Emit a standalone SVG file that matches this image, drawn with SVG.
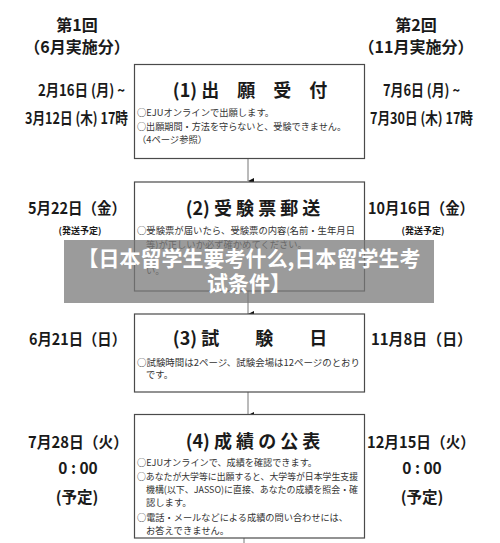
<svg xmlns="http://www.w3.org/2000/svg" width="500" height="543" viewBox="0 0 500 543">
<style>
.side{font-family:"Noto Sans CJK JP","Noto Sans",sans-serif;font-weight:bold;fill:#1a1a1a;text-anchor:middle}
.date{font-family:"Noto Sans CJK JP","Noto Sans",sans-serif;font-weight:bold;fill:#1a1a1a;font-size:15.5px}
.big{font-size:15.5px}
.small{font-size:9px}
.title{font-family:"Noto Sans CJK JP","Noto Sans",sans-serif;font-weight:bold;font-size:18px;fill:#1a1a1a;text-anchor:middle}
.body{font-family:"Noto Sans CJK JP","Noto Sans",sans-serif;font-size:9.3px;fill:#333}
.box{fill:#fff;stroke:#4a4a4a;stroke-width:1.2}
.conn{stroke:#777;stroke-width:1;fill:none}
.banner{font-family:"Noto Sans CJK SC","Noto Sans",sans-serif;font-weight:bold;font-size:21px;fill:#fff;text-anchor:middle}
</style>
<defs>
<marker id="arr" viewBox="0 0 6 6" refX="3" refY="6" markerWidth="6" markerHeight="6" markerUnits="userSpaceOnUse" orient="auto-start-reverse">
<path d="M0,0 L6,0 L3,6 Z" fill="#111"/>
</marker>
</defs>
<rect width="500" height="543" fill="#fff"/>
<g id="headers">
<text class="side" x="77" y="31" font-size="16">第1回</text>
<text class="side" x="77" y="53" font-size="16">（6月実施分）</text>
<text class="side" x="416" y="31" font-size="16">第2回</text>
<text class="side" x="416" y="53" font-size="16">（11月実施分）</text>
</g>
<g id="connectors">
<line class="conn" x1="248" y1="158" x2="248" y2="181" marker-end="url(#arr)"/>
<line class="conn" x1="248" y1="291" x2="248" y2="314" marker-end="url(#arr)"/>
<line class="conn" x1="248" y1="392" x2="248" y2="415" marker-end="url(#arr)"/>
<line class="conn" x1="244" y1="538" x2="244" y2="543"/>
</g>
<g id="step1">
<rect class="box" x="134.5" y="64.5" width="230" height="94"/>
<text class="title" x="250" y="97">(1) 出　願　受　付</text>
<text class="body" x="137" y="116">○EJUオンラインで出願します。</text>
<text class="body" x="137" y="129.5" textLength="209" lengthAdjust="spacingAndGlyphs">○出願期間・方法を守らないと、受験できません。</text>
<text class="body" x="137" y="143">（4ページ参照）</text>
<text class="date" x="38" y="96" textLength="87" lengthAdjust="spacingAndGlyphs">2月16日 (月) ~</text>
<text class="date" x="25" y="124" textLength="103" lengthAdjust="spacingAndGlyphs">3月12日 (木) 17時</text>
<text class="date" x="383" y="96" textLength="77" lengthAdjust="spacingAndGlyphs">7月6日 (月) ~</text>
<text class="date" x="370" y="124" textLength="103" lengthAdjust="spacingAndGlyphs">7月30日 (木) 17時</text>
</g>
<g id="step2">
<rect class="box" x="134.5" y="182" width="230" height="109"/>
<text class="title" x="253" y="215">(2) 受 験 票 郵 送</text>
<text class="body" x="137" y="234" textLength="218" lengthAdjust="spacingAndGlyphs">○受験票が届いたら、受験票の内容(名前・生年月日</text>
<text class="body" x="146" y="247.5">等)が正しいか必ず確かめてください。</text>
<text class="body" x="146" y="274">い。</text>
<text class="date" x="28" y="214" textLength="98" lengthAdjust="spacingAndGlyphs">5月22日（金）</text>
<text class="side small" x="80" y="234">(発送予定)</text>
<text class="date" x="368" y="214" textLength="106" lengthAdjust="spacingAndGlyphs">10月16日（金）</text>
<text class="side small" x="423" y="234">(発送予定)</text>
</g>
<g id="step3">
<rect class="box" x="134.5" y="314" width="230" height="78"/>
<text class="title" x="250" y="345">(3) 試　　験　　日</text>
<text class="body" x="137" y="366" textLength="223" lengthAdjust="spacingAndGlyphs">○試験時間は2ページ、試験会場は12ページのとおり</text>
<text class="body" x="146" y="378">です。</text>
<text class="date" x="29" y="345" textLength="97" lengthAdjust="spacingAndGlyphs">6月21日（日）</text>
<text class="date" x="371" y="345" textLength="101" lengthAdjust="spacingAndGlyphs">11月8日（日）</text>
</g>
<g id="step4">
<rect class="box" x="134.5" y="414.5" width="230" height="123.5"/>
<text class="title" x="253" y="448">(4) 成 績 の 公 表</text>
<text class="body" x="137" y="466" textLength="180" lengthAdjust="spacingAndGlyphs">○EJUオンラインで、成績を確認できます。</text>
<text class="body" x="137" y="480" textLength="221" lengthAdjust="spacingAndGlyphs">○あなたが大学等に出願すると、大学等が日本学生支援</text>
<text class="body" x="146" y="493" textLength="212" lengthAdjust="spacingAndGlyphs">機構(以下、JASSO)に直接、あなたの成績を照会・確</text>
<text class="body" x="146" y="506">認します。</text>
<text class="body" x="137" y="521" textLength="211" lengthAdjust="spacingAndGlyphs">○電話・メールなどによる成績の問い合わせには、</text>
<text class="body" x="146" y="534">お答えできません。</text>
<text class="date" x="28" y="448" textLength="100" lengthAdjust="spacingAndGlyphs">7月28日（火）</text>
<text class="side big" x="78" y="474">0 : 00</text>
<text class="side big" x="77" y="503">(予定)</text>
<text class="date" x="367" y="448" textLength="108" lengthAdjust="spacingAndGlyphs">12月15日（火）</text>
<text class="side big" x="422" y="474">0 : 00</text>
<text class="side big" x="422" y="503">(予定)</text>
</g>
<g id="banner">
<rect x="64" y="240" width="370" height="63" fill="#7a7a7a" fill-opacity="0.75"/>
<text class="banner" x="249" y="266">【日本留学生要考什么,日本留学生考</text>
<text class="banner" x="249" y="291">试条件】</text>
</g>
</svg>
